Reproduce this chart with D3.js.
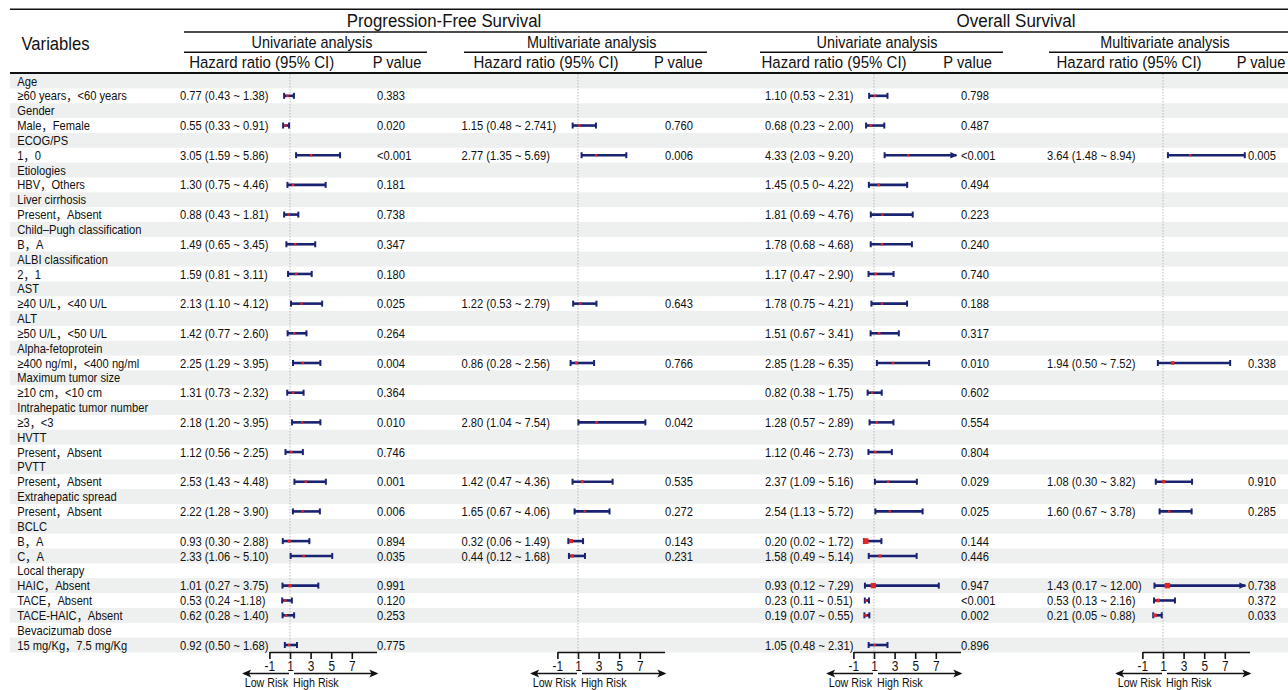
<!DOCTYPE html>
<html><head><meta charset="utf-8">
<script src="https://cdn.jsdelivr.net/npm/d3@7"></script>
<style>
body{margin:0;background:#fff}
svg{display:block}
text{font-family:"Liberation Sans", Arial, "Noto Sans CJK SC", sans-serif; fill:#111}
</style>
</head><body>
<svg id="chart" width="1288" height="690"></svg>
<script>
// ---------------- DATA ----------------
const groupLabels = ["Age","Gender","ECOG/PS","Etiologies","Liver cirrhosis","Child–Pugh classification",
  "ALBI classification","AST","ALT","Alpha-fetoprotein","Maximum tumor size","Intrahepatic tumor number",
  "HVTT","PVTT","Extrahepatic spread","BCLC","Local therapy","Bevacizumab dose"];
const subgroupLabels = [["≥60 years，<60 years"],["Male，Female"],["1，0"],["HBV，Others"],["Present，Absent"],
  ["B，A"],["2，1"],["≥40 U/L，<40 U/L"],["≥50 U/L，<50 U/L"],["≥400 ng/ml，<400 ng/ml"],["≥10 cm，<10 cm"],
  ["≥3，<3"],["Present，Absent"],["Present，Absent"],["Present，Absent"],["B，A","C，A"],
  ["HAIC，Absent","TACE，Absent","TACE-HAIC，Absent"],["15 mg/Kg，7.5 mg/Kg"]];

const pfsUniHR   = [0.77,0.55,3.05,1.30,0.88,1.49,1.59,2.13,1.42,2.25,1.31,2.18,1.12,2.53,2.22,0.93,2.33,1.01,0.53,0.62,0.92];
const pfsUniLow  = [0.43,0.33,1.59,0.75,0.43,0.65,0.81,1.10,0.77,1.29,0.73,1.20,0.56,1.43,1.28,0.30,1.06,0.27,0.24,0.28,0.50];
const pfsUniHigh = [1.38,0.91,5.86,4.46,1.81,3.45,3.11,4.12,2.60,3.95,2.32,3.95,2.25,4.48,3.90,2.88,5.10,3.75,1.18,1.40,1.68];
const pfsUniP    = ["0.383","0.020","<0.001","0.181","0.738","0.347","0.180","0.025","0.264","0.004","0.364","0.010","0.746","0.001","0.006","0.894","0.035","0.991","0.120","0.253","0.775"];

const pfsMultiHR   = [null,1.15,2.77,null,null,null,null,1.22,null,0.86,null,2.80,null,1.42,1.65,0.32,0.44,null,null,null,null];
const pfsMultiLow  = [null,0.48,1.35,null,null,null,null,0.53,null,0.28,null,1.04,null,0.47,0.67,0.06,0.12,null,null,null,null];
const pfsMultiHigh = [null,2.741,5.69,null,null,null,null,2.79,null,2.56,null,7.54,null,4.36,4.06,1.49,1.68,null,null,null,null];
const pfsMultiP    = [null,"0.760","0.006",null,null,null,null,"0.643",null,"0.766",null,"0.042",null,"0.535","0.272","0.143","0.231",null,null,null,null];

const osUniHR   = [1.10,0.68,4.33,1.45,1.81,1.78,1.17,1.78,1.51,2.85,0.82,1.28,1.12,2.37,2.54,0.20,1.58,0.93,0.23,0.19,1.05];
const osUniLow  = [0.53,0.23,2.03,0.50,0.69,0.68,0.47,0.75,0.67,1.28,0.38,0.57,0.46,1.09,1.13,0.02,0.49,0.12,0.11,0.07,0.48];
const osUniHigh = [2.31,2.00,9.20,4.22,4.76,4.68,2.90,4.21,3.41,6.35,1.75,2.89,2.73,5.16,5.72,1.72,5.14,7.29,0.51,0.55,2.31];
const osUniP    = ["0.798","0.487","<0.001","0.494","0.223","0.240","0.740","0.188","0.317","0.010","0.602","0.554","0.804","0.029","0.025","0.144","0.446","0.947","<0.001","0.002","0.896"];

const osMultiHR   = [null,null,3.64,null,null,null,null,null,null,1.94,null,null,null,1.08,1.60,null,null,1.43,0.53,0.21,null];
const osMultiLow  = [null,null,1.48,null,null,null,null,null,null,0.50,null,null,null,0.30,0.67,null,null,0.17,0.13,0.05,null];
const osMultiHigh = [null,null,8.94,null,null,null,null,null,null,7.52,null,null,null,3.82,3.78,null,null,12.00,2.16,0.88,null];
const osMultiP    = [null,null,"0.005",null,null,null,null,null,null,"0.338",null,null,null,"0.910","0.285",null,null,"0.738","0.372","0.033",null];

// CI labels exactly as printed where they differ from the standard format
const ciLabelOverrides = {"pfsUni-18":"0.53 (0.24 ~1.18)","pfsMulti-1":"1.15 (0.48 ~ 2.741)","osUni-3":"1.45 (0.5 0~ 4.22)"};

const tickValues = [-1,1,3,5,7];
const axisLabels = ["Low Risk","High Risk"];

// ---------------- LAYOUT ----------------
const svg = d3.select("#chart");
const W = 1288;
const SX = 0.92;
const navy = "#1a2372", red = "#e3231f";

function txt(g, x, y, s, size, anchor="start", sx=SX){
  return g.append("text").attr("transform",`translate(${x},${y}) scale(${sx},1)`)
    .attr("text-anchor",anchor).style("font-size",size+"px").text(s);
}

// rows
const rows = [];
let subIdx = 0;
groupLabels.forEach((gl,gi)=>{
  rows.push({label:gl, sub:null});
  subgroupLabels[gi].forEach(sl=>{ rows.push({label:sl, sub:subIdx++}); });
});
const yRow = d3.scaleLinear().domain([0, rows.length-1]).range([81, 645]);
const rowH = yRow(1)-yRow(0);

// bands
svg.append("g").selectAll("rect").data(rows.map((r,i)=>i).filter(i=>i%2===0)).join("rect")
  .attr("x",10).attr("width",W-10).attr("y",i=>yRow(i)-rowH/2).attr("height",rowH).attr("fill","#edf0ef");

// header lines
const hl = svg.append("g").attr("stroke","#111");
hl.append("line").attr("x1",10).attr("x2",W).attr("y1",9.3).attr("y2",9.3).attr("stroke-width",1.5);
hl.append("line").attr("x1",184).attr("x2",W).attr("y1",32).attr("y2",32).attr("stroke-width",1.5);
[[184,427],[464,707],[760,1003],[1049,W]].forEach(([a,b])=>{
  hl.append("line").attr("x1",a).attr("x2",b).attr("y1",52.3).attr("y2",52.3).attr("stroke-width",1.5);
});
hl.append("line").attr("x1",10).attr("x2",W).attr("y1",73).attr("y2",73).attr("stroke-width",2);

// header texts
const ht = svg.append("g");
txt(ht, 21.5, 50, "Variables", 18.5, "start", 0.9);
txt(ht, 444, 26.5, "Progression-Free Survival", 18.5, "middle", 0.91);
txt(ht, 1016, 26.5, "Overall Survival", 18.5, "middle", 0.92);
[[312,"Univariate analysis"],[591.7,"Multivariate analysis"],[877,"Univariate analysis"],[1165,"Multivariate analysis"]]
  .forEach(([x,s])=>txt(ht, x, 48, s, 16, "middle", 0.9));
[261.7,546,834,1129].forEach(x=>txt(ht, x, 67.5, "Hazard ratio (95% CI)", 16.5, "middle", 0.91));
[372.7,654,943.3,1236.7].forEach(x=>txt(ht, x, 67.5, "P value", 16.3, "start", 0.9));

// row labels
const RF = 13, RSX = 0.86;
const rl = svg.append("g");
rows.forEach((r,i)=>txt(rl, 17.3, yRow(i)+4.6, r.label, RF, "start", RSX));

// panels
const u = 10.3;
const panels = [
  {key:"pfsUni", hr:pfsUniHR, lo:pfsUniLow, hi:pfsUniHigh, p:pfsUniP, textX:180, ref:290, pX:377},
  {key:"pfsMulti", hr:pfsMultiHR, lo:pfsMultiLow, hi:pfsMultiHigh, p:pfsMultiP, textX:461.5, ref:578, pX:665},
  {key:"osUni", hr:osUniHR, lo:osUniLow, hi:osUniHigh, p:osUniP, textX:765, ref:874, pX:961},
  {key:"osMulti", hr:osMultiHR, lo:osMultiLow, hi:osMultiHigh, p:osMultiP, textX:1047, ref:1163, pX:1248}
];

const defs = svg.append("defs");
defs.append("marker").attr("id","arr").attr("viewBox","0 -5 10 10").attr("refX",8).attr("refY",0)
  .attr("markerWidth",10).attr("markerHeight",9).attr("markerUnits","userSpaceOnUse").attr("orient","auto")
  .append("path").attr("d","M0,-4.5 L10,0 L0,4.5 L2.5,0 Z").attr("fill","#111");

const clipMax = 9;
panels.forEach(P=>{
  const x = d3.scaleLinear().domain([-1, 9.4]).range([P.ref - 2*u, P.ref + 8.4*u]);
  const g = svg.append("g");
  // reference line
  g.append("line").attr("x1",x(1)).attr("x2",x(1)).attr("y1",74).attr("y2",652)
    .attr("stroke","#b8b8b8").attr("stroke-width",1).attr("stroke-dasharray","1.5,1.5");
  rows.forEach((r,i)=>{
    if(r.sub===null) return;
    const k = r.sub;
    if(P.hr[k]===null) return;
    const y = yRow(i);
    const est=P.hr[k], lo=P.lo[k], hi=P.hi[k];
    const label = ciLabelOverrides[P.key+"-"+k] || `${est.toFixed(2)} (${lo.toFixed(2)} ~ ${hi.toFixed(2)})`;
    txt(g, P.textX, y+4.6, label, RF, "start", RSX);
    txt(g, P.pX, y+4.6, P.p[k], RF, "start", RSX);
    const clipped = hi > clipMax;
    const x2 = x(Math.min(hi, clipMax));
    g.append("line").attr("x1",x(lo)).attr("x2",x2).attr("y1",y).attr("y2",y)
      .attr("stroke",navy).attr("stroke-width",2.6);
    g.append("line").attr("x1",x(lo)).attr("x2",x(lo)).attr("y1",y-3).attr("y2",y+3)
      .attr("stroke",navy).attr("stroke-width",2);
    if(clipped){
      g.append("path").attr("d",`M${x2-6},${y-3.2} L${x2+1},${y} L${x2-6},${y+3.2} Z`).attr("fill",navy);
    } else {
      g.append("line").attr("x1",x2).attr("x2",x2).attr("y1",y-3).attr("y2",y+3)
        .attr("stroke",navy).attr("stroke-width",2);
    }
    const s = Math.max(2.4, Math.min(5.6, 1.25*Math.log(hi/lo)+0.1));
    g.append("rect").attr("x",x(est)-s/2).attr("y",y-s/2).attr("width",s).attr("height",s).attr("fill",red);
  });
  // axis
  const ax = g.append("g").attr("transform","translate(0,652)")
    .call(d3.axisBottom(x).tickValues(tickValues).tickSize(7).tickSizeOuter(0).tickFormat(d=>String(d)));
  ax.select(".domain").attr("stroke","#111").attr("stroke-width",1.6);
  ax.selectAll(".tick line").attr("stroke","#111").attr("stroke-width",1.6);
  ax.selectAll(".tick text").attr("transform",`scale(0.85,1)`).attr("y",9).style("font-size","14px")
    .style("font-family",'"Liberation Sans", Arial, sans-serif').attr("fill","#111");
  // risk arrows
  g.append("line").attr("x1",x(1)-1).attr("x2",x(1)-46).attr("y1",673.5).attr("y2",673.5)
    .attr("stroke","#111").attr("stroke-width",1.7).attr("marker-end","url(#arr)");
  g.append("line").attr("x1",x(1)+4).attr("x2",x(9.4)).attr("y1",673.5).attr("y2",673.5)
    .attr("stroke","#111").attr("stroke-width",1.7).attr("marker-end","url(#arr)");
  txt(g, x(1)-2, 687, axisLabels[0], 13.5, "end", 0.79);
  txt(g, x(1)+3, 687, axisLabels[1], 13.5, "start", 0.79);
});
</script>
</body></html>
